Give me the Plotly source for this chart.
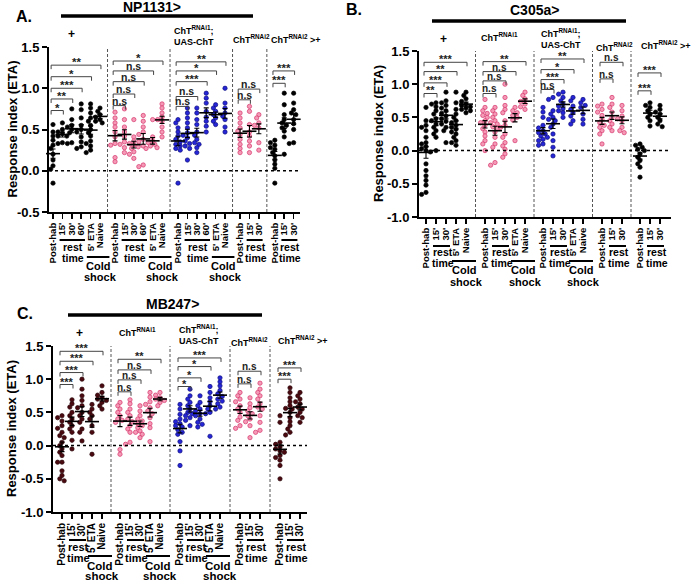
import numpy as np
import plotly.graph_objects as go

W, H = 695, 583
FONT = "Arial, 'Liberation Sans', sans-serif"

# ---------------- categories / labels ----------------
CATS_A = ["Post-hab", "15'", "30'", "60'", "5' ETA", "Naive"]
CATS_BC = ["Post-hab", "15'", "30'", "5' ETA", "Naive"]
CATS_SHORT = ["Post-hab", "15'", "30'"]
HEADERS = ["+", "ChT<sup>RNAi1</sup>", "ChT<sup>RNAi1</sup>;<br>UAS-ChT",
           "ChT<sup>RNAi2</sup>", "ChT<sup>RNAi2</sup> &gt;+"]

# ---------------- Panel A (NP1131>) ----------------
A_plus = [
    [0.56, 0.47, 0.42, 0.37, 0.34, 0.31, 0.27, 0.2, 0.19, 0.13, 0.1, 0.06, 0.02, -0.15, -0.18],
    [0.58, 0.5, 0.47, 0.45, 0.42, 0.42, 0.34, 0.33],
    [0.75, 0.62, 0.55, 0.53, 0.5, 0.46, 0.34, 0.33],
    [0.81, 0.74, 0.64, 0.55, 0.5, 0.47, 0.41, 0.35, 0.29, 0.27],
    [0.81, 0.76, 0.7, 0.64, 0.6, 0.55, 0.5, 0.46, 0.42, 0.36, 0.33, 0.3, 0.25, 0.22],
    [0.76, 0.72, 0.68, 0.65, 0.62, 0.6, 0.58],
]
A_rnai1 = [
    [0.71, 0.64, 0.58, 0.53, 0.47, 0.41, 0.33, 0.31, 0.16, 0.11],
    [0.75, 0.62, 0.53, 0.47, 0.42, 0.35, 0.32, 0.28, 0.22],
    [0.62, 0.41, 0.36, 0.33, 0.31, 0.29, 0.27, 0.23, 0.2, 0.15],
    [0.67, 0.6, 0.53, 0.47, 0.44, 0.38, 0.35, 0.3, 0.07, 0.05],
    [0.62, 0.41, 0.36, 0.34, 0.32, 0.3, 0.28, 0.27],
    [0.81, 0.76, 0.7, 0.65, 0.62, 0.6, 0.53, 0.47, 0.41],
]
A_rescue = [
    [0.62, 0.58, 0.52, 0.47, 0.42, 0.38, 0.35, 0.32, 0.3, 0.27, 0.25, -0.15],
    [0.76, 0.7, 0.64, 0.58, 0.52, 0.46, 0.43, 0.4, 0.36, 0.33, 0.3, 0.27, 0.13],
    [0.76, 0.7, 0.62, 0.56, 0.47, 0.43, 0.38, 0.34, 0.32, 0.28, 0.22],
    [0.94, 0.88, 0.82, 0.72, 0.65, 0.6, 0.54, 0.47],
    [0.8, 0.76, 0.72, 0.68, 0.64, 0.6, 0.56],
    [1.0, 0.82, 0.76, 0.7, 0.66, 0.62, 0.53, 0.47],
]
A_rnai2 = [
    [0.7, 0.64, 0.58, 0.52, 0.48, 0.44, 0.38, 0.32, 0.27, 0.22],
    [0.78, 0.72, 0.56, 0.47, 0.42, 0.36, 0.3, 0.22],
    [0.68, 0.64, 0.58, 0.55, 0.52, 0.34, 0.25],
]
A_rnai2_ctrl = [
    [0.37, 0.34, 0.31, 0.28, 0.26, 0.22, 0.18, 0.13, 0.08, 0.03, -0.15],
    [0.94, 0.8, 0.68, 0.62, 0.58, 0.55, 0.52, 0.48, 0.41, 0.2],
    [0.94, 0.82, 0.74, 0.7, 0.68, 0.62, 0.57, 0.5, 0.34, 0.33],
]
A_sig_labels = [
    (0, 1, "*"), (0, 2, "**"), (0, 3, "***"), (0, 4, "*"), (0, 5, "**"),
    (1, 1, "n.s"), (1, 2, "n.s"), (1, 3, "n.s"), (1, 4, "n.s"), (1, 5, "*"),
    (2, 1, "n.s"), (2, 2, "n.s"), (2, 3, "***"), (2, 4, "*"), (2, 5, "**"),
    (3, 1, "n.s"), (3, 2, "n.s"),
    (4, 1, "***"), (4, 2, "***"),
]

# ---------------- Panel B (C305a>) ----------------
B_plus = [
    [0.65, 0.45, 0.38, 0.35, 0.3, 0.2, 0.12, 0.1, 0.06, 0.03, 0.0, -0.02, -0.2, -0.3, -0.38, -0.45, -0.52, -0.63, -0.66],
    [0.72, 0.7, 0.66, 0.6, 0.55, 0.48, 0.45, 0.4, 0.35, 0.3, 0.25, 0.2, 0.0],
    [0.88, 0.75, 0.72, 0.68, 0.64, 0.6, 0.56, 0.52, 0.48, 0.44, 0.4, 0.35, 0.3, 0.12],
    [0.88, 0.72, 0.62, 0.55, 0.5, 0.45, 0.42, 0.38, 0.35, 0.32, 0.28, 0.25, 0.2, 0.15, 0.12, 0.08],
    [0.88, 0.83, 0.78, 0.74, 0.7, 0.68, 0.66, 0.64, 0.62, 0.6, 0.57],
]
B_rnai1 = [
    [0.77, 0.65, 0.6, 0.56, 0.53, 0.5, 0.45, 0.42, 0.38, 0.33, 0.28, 0.22, 0.15, 0.1, 0.0],
    [0.65, 0.6, 0.55, 0.5, 0.45, 0.42, 0.4, 0.36, 0.33, 0.28, 0.2, 0.1, 0.05, -0.18, -0.22],
    [1.0, 0.8, 0.68, 0.62, 0.57, 0.45, 0.38, 0.35, 0.25, 0.2, 0.12, 0.07, 0.02, -0.05, -0.1],
    [0.65, 0.6, 0.57, 0.53, 0.5, 0.46, 0.15],
    [0.88, 0.83, 0.78, 0.74, 0.7, 0.66, 0.62],
]
B_rescue = [
    [0.65, 0.58, 0.5, 0.38, 0.34, 0.3, 0.27, 0.25, 0.22, 0.2, 0.17, 0.15, 0.1, 0.08],
    [0.8, 0.77, 0.6, 0.55, 0.5, 0.47, 0.45, 0.4, 0.35, 0.25, 0.15, 0.05, -0.08],
    [0.88, 0.85, 0.8, 0.75, 0.7, 0.67, 0.63, 0.6, 0.57, 0.5],
    [0.8, 0.75, 0.67, 0.62, 0.57, 0.52, 0.45, 0.4],
    [0.77, 0.72, 0.68, 0.65, 0.55, 0.47, 0.4],
]
B_rnai2 = [
    [0.7, 0.67, 0.62, 0.58, 0.53, 0.47, 0.42, 0.38, 0.35, 0.3, 0.25, 0.1],
    [0.8, 0.7, 0.65, 0.58, 0.5, 0.45, 0.4, 0.35, 0.3],
    [0.68, 0.6, 0.52, 0.48, 0.45, 0.35, 0.3, 0.27],
]
B_rnai2_ctrl = [
    [0.1, 0.08, 0.05, 0.02, 0.0, -0.05, -0.1, -0.15, -0.2, -0.25, -0.4],
    [0.72, 0.68, 0.65, 0.6, 0.55, 0.5, 0.45, 0.37],
    [0.68, 0.62, 0.58, 0.55, 0.5, 0.45, 0.4, 0.36],
]
B_sig_labels = [
    (0, 1, "**"), (0, 2, "***"), (0, 3, "**"), (0, 4, "***"),
    (1, 1, "n.s"), (1, 2, "n.s"), (1, 3, "n.s"), (1, 4, "**"),
    (2, 1, "n.s"), (2, 2, "***"), (2, 3, "*"), (2, 4, "**"),
    (3, 1, "n.s"), (3, 2, "n.s"),
    (4, 1, "***"), (4, 2, "***"),
]

# ---------------- Panel C (MB247>) ----------------
C_plus = [
    [0.45, 0.42, 0.37, 0.3, 0.26, 0.2, 0.15, 0.12, 0.05, 0.0, -0.05, -0.1, -0.15, -0.25, -0.25, -0.38, -0.45, -0.5, -0.53],
    [0.69, 0.63, 0.58, 0.5, 0.45, 0.4, 0.35, 0.3, 0.25, 0.2, 0.08, -0.05],
    [1.0, 0.85, 0.75, 0.68, 0.6, 0.57, 0.5, 0.45, 0.4, 0.35, 0.25, 0.2, 0.07],
    [0.62, 0.55, 0.5, 0.45, 0.4, 0.3, 0.2, -0.13],
    [0.9, 0.8, 0.76, 0.72, 0.7, 0.68, 0.65, 0.6, 0.55],
]
C_rnai1 = [
    [0.65, 0.6, 0.55, 0.5, 0.45, 0.4, 0.38, 0.35, -0.06, -0.13],
    [0.69, 0.63, 0.55, 0.5, 0.45, 0.4, 0.36, 0.3, 0.25, 0.2, 0.05, 0.02],
    [0.6, 0.52, 0.45, 0.4, 0.37, 0.33, 0.3, 0.27, 0.22, 0.2, 0.17, 0.12],
    [0.8, 0.73, 0.66, 0.62, 0.57, 0.52, 0.48, 0.42, 0.33, 0.27, 0.06],
    [0.8, 0.76, 0.72, 0.7, 0.68, 0.65, 0.6],
]
C_rescue = [
    [0.62, 0.55, 0.47, 0.4, 0.36, 0.33, 0.3, 0.28, 0.24, 0.2, 0.17, 0.06, -0.08, -0.3],
    [0.85, 0.75, 0.7, 0.65, 0.6, 0.55, 0.5, 0.48, 0.45, 0.42, 0.38, 0.3],
    [0.75, 0.65, 0.6, 0.55, 0.52, 0.48, 0.45, 0.4, 0.35, 0.32, 0.28],
    [0.89, 0.8, 0.72, 0.66, 0.6, 0.55, 0.5, 0.48, 0.14],
    [1.02, 0.96, 0.9, 0.83, 0.78, 0.74, 0.7, 0.67, 0.63, 0.58, 0.55],
]
C_rnai2 = [
    [0.8, 0.75, 0.7, 0.66, 0.6, 0.55, 0.5, 0.43, 0.38, 0.3, 0.26],
    [0.72, 0.63, 0.57, 0.52, 0.48, 0.45, 0.4, 0.36, 0.3, 0.12],
    [0.94, 0.85, 0.8, 0.75, 0.7, 0.63, 0.58, 0.55, 0.45, 0.35, 0.23, 0.2],
]
C_rnai2_ctrl = [
    [0.45, 0.35, 0.05, 0.02, -0.02, -0.05, -0.08, -0.1, -0.15, -0.18, -0.22, -0.3, -0.5],
    [0.87, 0.8, 0.72, 0.66, 0.6, 0.56, 0.55, 0.5, 0.42, 0.36, 0.3, 0.25, 0.2, 0.16],
    [0.8, 0.75, 0.7, 0.66, 0.63, 0.58, 0.55, 0.5, 0.45, 0.42, 0.35],
]
C_sig_labels = [
    (0, 1, "***"), (0, 2, "***"), (0, 3, "***"), (0, 4, "***"),
    (1, 1, "n.s"), (1, 2, "n.s"), (1, 3, "n.s"), (1, 4, "**"),
    (2, 1, "*"), (2, 2, "*"), (2, 3, "*"), (2, 4, "***"),
    (3, 1, "n.s"), (3, 2, "n.s"),
    (4, 1, "***"), (4, 2, "***"),
]

# ---------------- styling / geometry ----------------
BLACK = dict(fill="#000000", line="#000000")
PINK = dict(fill="#f59ab6", line="#d6336c")
BLUE = dict(fill="#2626d6", line="#0b0b80")
MAROON = dict(fill="#4a0a10", line="#2a0508")

A_sig_y = [0.73, 0.87, 1.0, 1.14, 1.28, 0.79, 0.93, 1.08, 1.21, 1.33,
           0.78, 0.9, 1.08, 1.21, 1.32, 0.86, 0.99, 1.06, 1.21]
B_sig_y = [0.86, 1.02, 1.19, 1.33, 0.86, 1.05, 1.19, 1.34,
           0.92, 1.07, 1.22, 1.38, 1.08, 1.33, 0.9, 1.17]
C_sig_y = [0.92, 1.1, 1.27, 1.42, 0.81, 0.99, 1.14, 1.3,
           0.89, 1.02, 1.19, 1.32, 0.93, 1.12, 1.0, 1.17]

PANELS = [
    dict(letter="A.", title="NP1131>",
         groups=[A_plus, A_rnai1, A_rescue, A_rnai2, A_rnai2_ctrl],
         cats=[CATS_A, CATS_A, CATS_A, CATS_SHORT, CATS_SHORT],
         colors=[BLACK, PINK, BLUE, PINK, BLACK],
         sig=A_sig_labels, sig_y=A_sig_y,
         px0=49, px1=300, x0px=53, unit=9.4, pytop=47, pybot=212, ymin=-0.5,
         offsets=[0, 6.6, 13.3, 19.9, 23.6],
         letter_pos=(24, 17), title_pos=(152, 7), tline=(61, 253, 16), ytitle_x=12,
         rest_y=(240, 247, 258), cold_y=(257, 266, 277),
         headers=[(71, 34, "center"), None, (173, 36, "left"),
                  (232, 39, "left"), (270, 39, "left")],
         tickfs=9.5, sigfs=10.5),
    dict(letter="B.", title="C305a>",
         groups=[B_plus, B_rnai1, B_rescue, B_rnai2, B_rnai2_ctrl],
         cats=[CATS_BC, CATS_BC, CATS_BC, CATS_SHORT, CATS_SHORT],
         colors=[BLACK, PINK, BLUE, PINK, BLACK],
         sig=B_sig_labels, sig_y=B_sig_y,
         px0=419, px1=671, x0px=426, unit=10, pytop=51, pybot=217, ymin=-1.0,
         offsets=[0, 5.9, 11.7, 17.6, 21.4],
         letter_pos=(354, 9), title_pos=(534, 10), tline=(432, 626, 21), ytitle_x=378,
         rest_y=(246, 252, 263), cold_y=(261, 270, 282),
         headers=[(443, 39, "center"), (480, 37, "left"),
                  (540, 39, "left"), (595, 47, "left"),
                  (640, 45, "left")],
         tickfs=9.5, sigfs=10),
    dict(letter="C.", title="MB247>",
         groups=[C_plus, C_rnai1, C_rescue, C_rnai2, C_rnai2_ctrl],
         cats=[CATS_BC, CATS_BC, CATS_BC, CATS_SHORT, CATS_SHORT],
         colors=[MAROON, PINK, BLUE, PINK, MAROON],
         sig=C_sig_labels, sig_y=C_sig_y,
         px0=53, px1=307, x0px=62, unit=10, pytop=346, pybot=512, ymin=-1.0,
         offsets=[0, 5.8, 11.8, 17.8, 21.8],
         letter_pos=(25, 313), title_pos=(172, 304), tline=(68, 262, 315), ytitle_x=12,
         rest_y=(540, 547, 558), cold_y=(556, 566, 576),
         headers=[(79, 333, "center"), (118, 332, "left"),
                  (178, 334, "left"), (230, 342, "left"),
                  (277, 340, "left")],
         tickfs=10, sigfs=10),
]


def X(px):
    return px / W


def Y(py):
    return 1 - py / H


def swarm(vals, unit_px, ypx, d=3.9):
    order = np.argsort(-np.asarray(vals), kind="stable")
    placed, offs = [], [0.0] * len(vals)
    cands = [0, -2.2, 2.2, -4.4, 4.4, -6.6, 6.6]
    for i in order:
        yy = vals[i] * ypx
        chosen = cands[-1]
        for c in cands:
            if all((c - px) ** 2 + (yy - py) ** 2 >= d * d for px, py in placed):
                chosen = c
                break
        placed.append((chosen, yy))
        offs[i] = chosen / unit_px
    return offs


fig = go.Figure()
layout = dict(width=W, height=H, margin=dict(l=0, r=0, t=0, b=0),
              paper_bgcolor="white", plot_bgcolor="white", showlegend=False,
              font=dict(family=FONT, color="black"))
shapes, annots = [], []


def pann(x, y, text, size, xanchor="center", yanchor="middle", angle=0):
    annots.append(dict(x=X(x), y=Y(y), xref="paper", yref="paper", text=text,
                       showarrow=False, xanchor=xanchor, yanchor=yanchor, textangle=angle,
                       borderpad=0, align="left",
                       font=dict(family=FONT, size=size, color="black", weight="bold")))


def pline(x0, x1, y, w=2):
    shapes.append(dict(type="line", xref="paper", yref="paper", x0=X(x0), x1=X(x1),
                       y0=Y(y), y1=Y(y), line=dict(color="black", width=w)))


for pi, P in enumerate(PANELS, start=1):
    sfx = "" if pi == 1 else str(pi)
    xn, yn = "x" + sfx, "y" + sfx
    xmin = (P["px0"] - P["x0px"]) / P["unit"]
    xmax = (P["px1"] - P["x0px"]) / P["unit"]
    ypx = (P["pybot"] - P["pytop"]) / (1.5 - P["ymin"])
    xpx = lambda x, P=P: P["x0px"] + x * P["unit"]

    tickvals, ticktext = [], []
    for g, (grp, cats, col) in enumerate(zip(P["groups"], P["cats"], P["colors"])):
        off = P["offsets"][g]
        xs, ys = [], []
        mx, my, me = [], [], []
        for k, vals in enumerate(grp):
            pos = off + k
            tickvals.append(pos)
            ticktext.append(cats[k])
            sw = swarm(vals, P["unit"], ypx)
            xs += [pos + s for s in sw]
            ys += list(vals)
            arr = np.asarray(vals)
            mx.append(pos)
            my.append(arr.mean())
            me.append(arr.std(ddof=1) / np.sqrt(len(arr)))
        fig.add_trace(go.Scatter(x=xs, y=ys, mode="markers", xaxis=xn, yaxis=yn,
                                 cliponaxis=False, hoverinfo="skip",
                                 marker=dict(size=4.3, color=col["fill"],
                                             line=dict(color=col["line"], width=0.7))))
        fig.add_trace(go.Scatter(x=mx, y=my, mode="markers", xaxis=xn, yaxis=yn,
                                 cliponaxis=False, hoverinfo="skip",
                                 marker=dict(symbol="line-ew", size=10, color="black",
                                             line=dict(color="black", width=1.6)),
                                 error_y=dict(type="data", array=me, visible=True,
                                              color="black", thickness=1.1, width=2.5)))
        n = len(cats)
        if n == 6:
            rest_idx, cold_idx = (1, 3), (4, 5)
        elif n == 5:
            rest_idx, cold_idx = (1, 2), (3, 4)
        else:
            rest_idx, cold_idx = (1, 2), None
        rb, rt, tt = P["rest_y"]
        x0 = xpx(off + rest_idx[0] - 0.3)
        x1 = xpx(off + rest_idx[1] + 0.4)
        pline(x0, x1, rb, 2)
        pann((x0 + x1) / 2 + 1, rt, "rest", P["tickfs"] + 1)
        pann((x0 + x1) / 2 + 1, tt, "time", P["tickfs"] + 1)
        if cold_idx:
            cb, ct, st = P["cold_y"]
            x0 = xpx(off + cold_idx[0] - 0.4)
            x1 = xpx(off + cold_idx[1] + 1.0)
            pline(x0, x1, cb, 2)
            pann((x0 + x1) / 2, ct, "Cold", P["tickfs"] + 1.5)
            pann((x0 + x1) / 2 + 2, st, "shock", P["tickfs"] + 1.5)
        hp = P["headers"][g]
        if hp is not None:
            size = 12 if HEADERS[g] == "+" else 9
            pann(hp[0], hp[1], HEADERS[g], size, xanchor=hp[2])

    for g in range(len(P["groups"]) - 1):
        end = P["offsets"][g] + len(P["groups"][g]) - 1
        start = P["offsets"][g + 1]
        xm = (end + start) / 2
        shapes.append(dict(type="line", xref=xn, yref=yn, x0=xm, x1=xm, y0=P["ymin"], y1=1.5,
                           line=dict(color="#555555", width=1, dash="3px,2px")))
    shapes.append(dict(type="line", xref=xn, yref=yn, x0=xmin, x1=xmax, y0=0, y1=0,
                       line=dict(color="black", width=1.5, dash="dot")))

    tk = 4.0 / ypx
    for (g, t, lab), yv in zip(P["sig"], P["sig_y"]):
        a = P["offsets"][g] - 0.2
        b = P["offsets"][g] + t + 0.1
        shapes.append(dict(type="path", xref=xn, yref=yn,
                           path=f"M {a},{yv - tk} L {a},{yv} L {b},{yv} L {b},{yv - tk}",
                           line=dict(color="#444444", width=1)))
        annots.append(dict(x=(a + b) / 2, y=yv, xref=xn, yref=yn, text=lab, showarrow=False,
                           xanchor="center", yanchor="bottom",
                           yshift=-2 if lab == "n.s" else -4, borderpad=0,
                           font=dict(family=FONT, size=P["sigfs"] + (0 if lab == "n.s" else 1),
                                     color="#222222", weight="bold")))

    layout["xaxis" + sfx] = dict(domain=[X(P["px0"]), X(P["px1"])], range=[xmin, xmax],
                                 anchor=yn, showgrid=False, zeroline=False, showline=True,
                                 linecolor="black", linewidth=2, ticks="outside", ticklen=5,
                                 tickwidth=1.5, tickcolor="black", tickvals=tickvals,
                                 ticktext=ticktext, tickangle=-90, automargin=False,
                                 tickfont=dict(family=FONT, size=P["tickfs"], color="black",
                                               weight="bold"), fixedrange=True)
    yt = [v for v in [-1.0, -0.5, 0.0, 0.5, 1.0, 1.5] if v >= P["ymin"]]
    layout["yaxis" + sfx] = dict(domain=[Y(P["pybot"]), Y(P["pytop"])],
                                 range=[P["ymin"], 1.5], anchor=xn, showgrid=False,
                                 zeroline=False, showline=True, linecolor="black", linewidth=2,
                                 ticks="outside", ticklen=5, tickwidth=2, tickcolor="black",
                                 tickvals=yt, ticktext=[f"{v:.1f}" for v in yt],
                                 automargin=False,
                                 tickfont=dict(family=FONT, size=13, color="black", weight="bold"),
                                 fixedrange=True)
    pann(P["letter_pos"][0], P["letter_pos"][1], P["letter"], 16)
    pann(P["title_pos"][0], P["title_pos"][1], P["title"], 14)
    pline(P["tline"][0], P["tline"][1], P["tline"][2], 3.5)
    pann(P["ytitle_x"], (P["pytop"] + P["pybot"]) / 2, "Response index (ETA)", 13, angle=-90)

layout["shapes"] = shapes
layout["annotations"] = annots
fig.update_layout(**layout)
fig.write_html("out.html",
               config={"displayModeBar": False, "staticPlot": True},
               post_script="document.body.style.margin='0px';document.body.style.overflow='hidden';")
